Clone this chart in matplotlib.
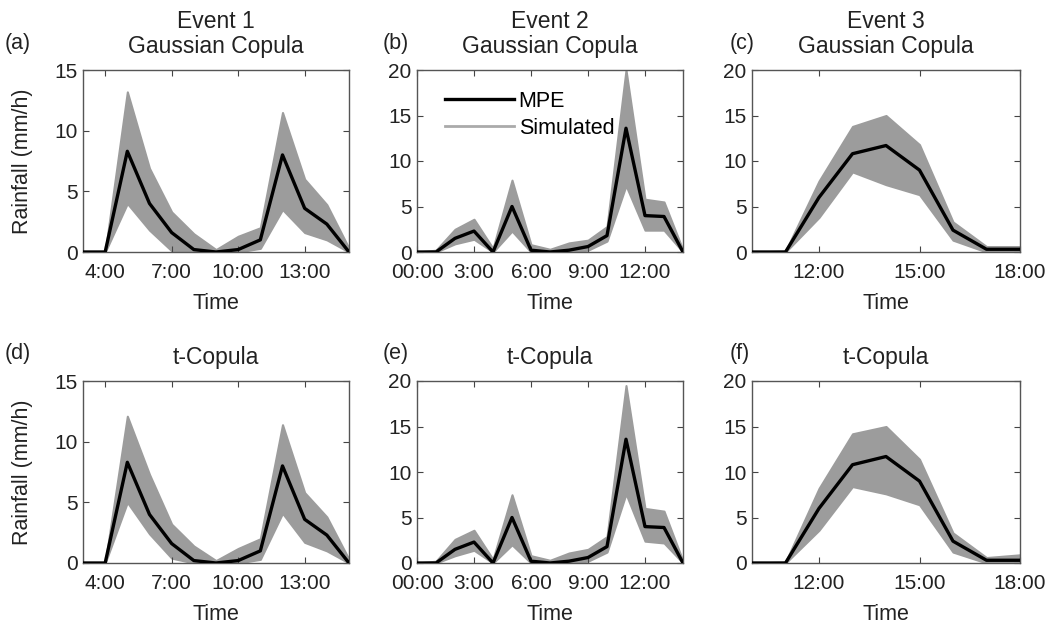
import matplotlib
matplotlib.use('Agg')
import matplotlib.pyplot as plt

plt.rcParams['font.family'] = ['Liberation Sans', 'DejaVu Sans']

# Event 1: 3:00 - 15:00, hourly
hours1 = list(range(3, 16))
mpe1 = [0, 0, 8.3, 4.0, 1.6, 0.2, 0, 0.2, 1.0, 8.0, 3.6, 2.3, 0]
gauss_hi1 = [0, 0, 13.2, 6.9, 3.3, 1.5, 0.2, 1.3, 2.0, 11.5, 6.0, 3.9, 0.3]
gauss_lo1 = [0, 0, 4.0, 1.8, 0.1, 0, 0, 0, 0.3, 3.5, 1.6, 1.0, 0]
t_hi1 = [0, 0, 12.1, 7.3, 3.2, 1.4, 0.2, 1.2, 2.0, 11.4, 5.8, 3.8, 0.3]
t_lo1 = [0, 0, 5.0, 2.4, 0.4, 0, 0, 0, 0.3, 4.1, 1.7, 1.0, 0]
ticks1 = [4, 7, 10, 13]
labels1 = ['4:00', '7:00', '10:00', '13:00']

# Event 2: 00:00 - 14:00
hours2 = list(range(0, 15))
mpe2 = [0, 0, 1.5, 2.3, 0, 5.0, 0.2, 0, 0.2, 0.6, 1.8, 13.6, 4.0, 3.9, 0]
gauss_hi2 = [0, 0.2, 2.5, 3.6, 0.4, 7.9, 0.8, 0.3, 1.0, 1.3, 2.8, 20.0, 5.8, 5.5, 0.2]
gauss_lo2 = [0, 0, 0.9, 1.4, 0, 2.3, 0, 0, 0, 0.2, 1.2, 7.3, 2.4, 2.4, 0]
t_hi2 = [0, 0.2, 2.6, 3.6, 0.4, 7.5, 0.8, 0.3, 1.1, 1.5, 2.9, 19.5, 6.0, 5.7, 0.2]
t_lo2 = [0, 0, 0.8, 1.4, 0, 2.0, 0, 0, 0, 0.2, 1.2, 7.6, 2.4, 2.2, 0]
ticks2 = [0, 3, 6, 9, 12]
labels2 = ['00:00', '3:00', '6:00', '9:00', '12:00']

# Event 3: 10:00 - 18:00
hours3 = list(range(10, 19))
mpe3 = [0, 0, 6.0, 10.8, 11.7, 9.0, 2.4, 0.3, 0.3]
gauss_hi3 = [0, 0.1, 7.8, 13.8, 15.0, 11.8, 3.3, 0.6, 0.6]
gauss_lo3 = [0, 0, 3.8, 8.8, 7.4, 6.3, 1.3, 0, 0]
t_hi3 = [0, 0.1, 8.2, 14.2, 15.0, 11.4, 3.3, 0.6, 0.9]
t_lo3 = [0, 0, 3.6, 8.4, 7.6, 6.4, 1.2, 0, 0]
ticks3 = [12, 15, 18]
labels3 = ['12:00', '15:00', '18:00']

events = [
    (hours1, mpe1, gauss_hi1, gauss_lo1, t_hi1, t_lo1, ticks1, labels1, 15),
    (hours2, mpe2, gauss_hi2, gauss_lo2, t_hi2, t_lo2, ticks2, labels2, 20),
    (hours3, mpe3, gauss_hi3, gauss_lo3, t_hi3, t_lo3, ticks3, labels3, 20),
]

W, H = 1052, 630
fig = plt.figure(figsize=(W / 100, H / 100), dpi=100)

lefts = [83, 417, 752]
widths = [266, 266, 268]
tops = [70, 381]
ax_h = 182
band_color = '#9c9c9c'
text_color = '#222222'

panel = 'abcdef'
for row in range(2):
    for col in range(3):
        hrs, mpe, g_hi, g_lo, t_hi, t_lo, ticks, labels, ymax = events[col]
        ax = fig.add_axes([lefts[col] / W, 1 - (tops[row] + ax_h) / H,
                           widths[col] / W, ax_h / H])
        hi, lo = (g_hi, g_lo) if row == 0 else (t_hi, t_lo)
        ax.fill_between(hrs, lo, hi, color=band_color, lw=1.5,
                        edgecolor=band_color)
        ax.plot([], [], color='#aaaaaa', lw=2, label='Simulated')
        ax.plot(hrs, mpe, color='black', lw=2.4, label='MPE', zorder=5)
        ax.set_xlim(hrs[0], hrs[-1])
        ax.set_ylim(0, ymax)
        ax.set_xticks(ticks)
        ax.set_xticklabels(labels)
        ax.set_yticks(range(0, ymax + 1, 5))
        ax.tick_params(direction='in', top=True, right=True, length=4,
                       width=0.8, labelsize=15, colors='#444444',
                       labelcolor=text_color)
        ax.tick_params(axis='x', pad=8)
        ax.tick_params(axis='y', pad=4)
        for s in ax.spines.values():
            s.set_color('#555555')
            s.set_linewidth(1.0)
        ax.set_xlabel('Time', fontsize=15.5, color=text_color, labelpad=8)
        if col == 0:
            ax.set_ylabel('Rainfall (mm/h)', fontsize=15.5, color=text_color,
                          labelpad=15)
        if row == 0:
            title = 'Event %d\nGaussian Copula' % (col + 1)
        else:
            title = 't-Copula'
        ax.set_title(title, fontsize=16.5, color=text_color, pad=12,
                     linespacing=1.15)
        if row == 0 and col == 1:
            h, l = ax.get_legend_handles_labels()
            ax.legend(h[::-1], l[::-1], loc='upper left', frameon=False,
                      fontsize=15.5, handlelength=3.2, handletextpad=0.2,
                      borderaxespad=0.3, labelspacing=0.3,
                      bbox_to_anchor=(0.05, 0.97))
        lx = [5, 383, 730][col]
        ly = [43, 353][row]
        fig.text(lx / W, 1 - ly / H, '(%s)' % panel[row * 3 + col],
                 fontsize=15.5, color=text_color, ha='left', va='center')

fig.savefig('out.png', dpi=100)
